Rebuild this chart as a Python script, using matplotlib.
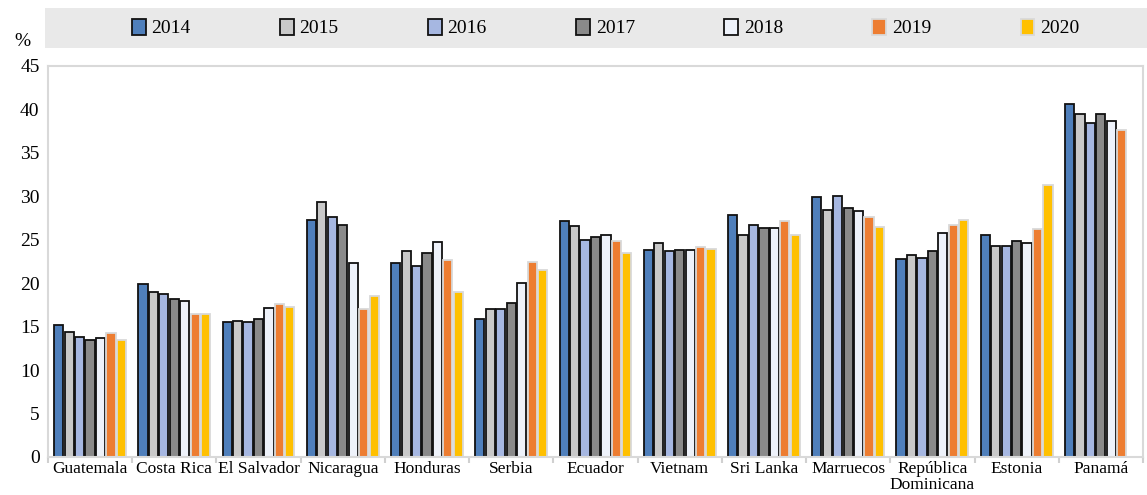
import numpy as np
import matplotlib
matplotlib.use("Agg")
import matplotlib.pyplot as plt
from matplotlib.patches import Rectangle

countries = ["Guatemala", "Costa Rica", "El Salvador", "Nicaragua", "Honduras",
             "Serbia", "Ecuador", "Vietnam", "Sri Lanka", "Marruecos",
             "República\nDominicana", "Estonia", "Panamá"]
years = ["2014", "2015", "2016", "2017", "2018", "2019", "2020"]

v2014 = [15.2, 19.9, 15.5, 27.3, 22.3, 15.9, 27.2, 23.8, 27.8, 29.9, 22.8, 25.6, 40.6]
v2015 = [14.4, 19.0, 15.6, 29.3, 23.7, 17.0, 26.6, 24.6, 25.6, 28.4, 23.2, 24.3, 39.5]
v2016 = [13.8, 18.8, 15.5, 27.6, 22.0, 17.0, 25.0, 23.7, 26.7, 30.0, 22.9, 24.3, 38.4]
v2017 = [13.5, 18.2, 15.9, 26.7, 23.5, 17.7, 25.3, 23.8, 26.4, 28.6, 23.7, 24.9, 39.5]
v2018 = [13.7, 17.9, 17.2, 22.3, 24.7, 20.0, 25.6, 23.8, 26.4, 28.3, 25.8, 24.6, 38.7]
v2019 = [14.3, 16.5, 17.6, 17.0, 22.7, 22.4, 24.8, 24.2, 27.2, 27.6, 26.7, 26.2, 37.6]
v2020 = [13.5, 16.5, 17.3, 18.5, 19.0, 21.5, 23.5, 23.9, 25.5, 26.5, 27.3, 31.3, np.nan]

series = [v2014, v2015, v2016, v2017, v2018, v2019, v2020]
colors = ["#4f7fbb", "#c9c9c9", "#a6b7e1", "#8a8a8a", "#eef2fa", "#ed7d31", "#ffc000"]
edges = ["#111111"] * 5 + ["#d9d9d9", "#d9d9d9"]

plt.rcParams["font.family"] = ["Liberation Serif", "DejaVu Serif"]

fig = plt.figure(figsize=(11.47, 4.95), dpi=100)
ax = fig.add_axes([0.0418, 0.0768, 0.9547, 0.79])

x = np.arange(len(countries))
w = 0.124
handles = []
for i, (vals, c, e) in enumerate(zip(series, colors, edges)):
    b = ax.bar(x + (i - 3) * w, vals, width=w * 0.88, color=c, edgecolor=e,
               linewidth=1.3, label=years[i])
    handles.append(b)

ax.set_xlim(-0.5, len(countries) - 0.5)
ax.set_ylim(0, 45)
ax.set_yticks(np.arange(0, 46, 5))
ax.tick_params(axis="y", length=0, labelsize=14, pad=6)
ax.set_xticks(x)
ax.set_xticklabels(countries, fontsize=12.5, linespacing=0.95)
ax.tick_params(axis="x", length=0, pad=3)
ax.set_xticks(np.arange(-0.5, len(countries), 1), minor=True)
ax.tick_params(axis="x", which="minor", length=4, color="#d0d0d0", width=1.5)
for s in ax.spines.values():
    s.set_color("#d9d9d9")
    s.set_linewidth(1.5)

# legend band
fig.patches.append(Rectangle((45 / 1147, 1 - 48 / 495), 1 - 45 / 1147, 40 / 495,
                             transform=fig.transFigure, facecolor="#e9e9e9",
                             edgecolor="none", zorder=0))
fig.legend(handles=handles, labels=years, loc="center",
           bbox_to_anchor=(0.528, 1 - 28 / 495), ncol=7, frameon=False,
           fontsize=14, handlelength=0.7, handleheight=0.9, handletextpad=0.3,
           columnspacing=4.6)
fig.text(22 / 1147, 1 - 42 / 495, "%", fontsize=14, ha="center", va="center")

fig.savefig("out.png", dpi=100)
